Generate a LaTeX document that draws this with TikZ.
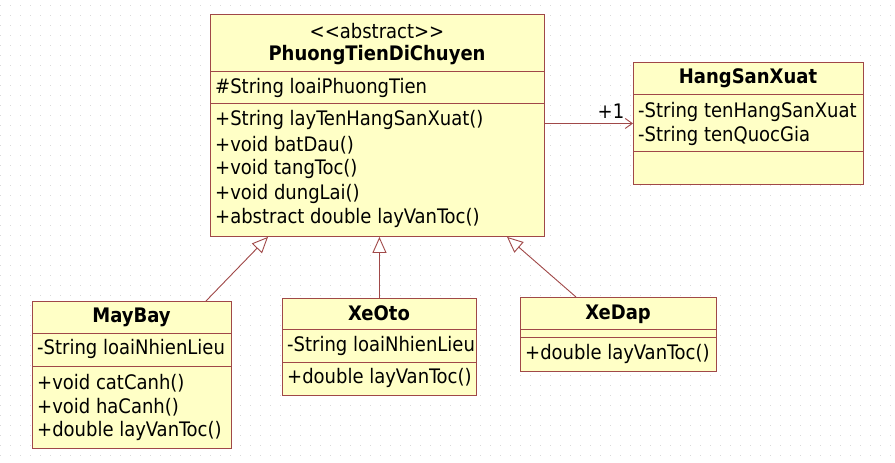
\documentclass[tikz,border=0pt]{standalone}
\usepackage{fontspec}
\setmainfont{DejaVu Sans Condensed}
\usetikzlibrary{arrows.meta,calc}
\definecolor{umlfill}{RGB}{255,255,198}
\definecolor{umlline}{RGB}{160,72,72}
\definecolor{griddot}{RGB}{218,218,218}
\begin{document}
\begin{tikzpicture}[x=1pt,y=-1pt,
  classbox/.style={draw=umlline, fill=umlfill, line width=0.9pt, anchor=north west, inner sep=0pt},
  divider/.style={draw=umlline, line width=0.9pt},
  txt/.style={anchor=west, inner sep=0pt, font=\fontsize{20}{24}\selectfont},
  ttl/.style={anchor=center, inner sep=0pt, font=\fontsize{20}{24}\selectfont\bfseries},
  gen/.style={draw=umlline, line width=0.9pt, -{Triangle[open, length=16pt, width=14pt, fill=white]}},
  assoc/.style={draw=umlline, line width=0.9pt, -{Straight Barb[length=7pt, width=10pt]}}]
\useasboundingbox (0,0) rectangle (895,463);
\fill[white] (0,0) rectangle (895,463);
\foreach \yy in {5,15,...,455}
  \draw[griddot, line width=1pt, dash pattern=on 1pt off 9pt] (0,\yy) -- (895,\yy);

% main abstract class
\node[classbox, minimum width=334pt, minimum height=222pt] (main) at (210,14) {};
\draw[divider] ($(main.north west)+(0,57)$) -- ($(main.north east)+(0,57)$);
\draw[divider] ($(main.north west)+(0,89)$) -- ($(main.north east)+(0,89)$);
\node[txt, anchor=center] (mainst) at (377,31) {{<}{<}abstract{>}{>}};
\node[ttl] (maint) at (377,55) {PhuongTienDiChuyen};
\node[txt] (maina1) at (215,88) {\#String loaiPhuongTien};
\node[txt] (mainm1) at (215,120) {+String layTenHangSanXuat()};
\node[txt] (mainm2) at (215,145) {+void batDau()};
\node[txt] (mainm3) at (215,169) {+void tangToc()};
\node[txt] (mainm4) at (215,194) {+void dungLai()};
\node[txt] (mainm5) at (215,218) {+abstract double layVanToc()};

% HangSanXuat
\node[classbox, minimum width=230pt, minimum height=122pt] (hsx) at (633,62) {};
\draw[divider] ($(hsx.north west)+(0,32)$) -- ($(hsx.north east)+(0,32)$);
\draw[divider] ($(hsx.north west)+(0,89)$) -- ($(hsx.north east)+(0,89)$);
\node[ttl] (hsxt) at (748,78) {HangSanXuat};
\node[txt] (hsxa1) at (638,112) {-String tenHangSanXuat};
\node[txt] (hsxa2) at (638,136) {-String tenQuocGia};

% MayBay
\node[classbox, minimum width=199pt, minimum height=147pt] (maybay) at (32,301) {};
\draw[divider] ($(maybay.north west)+(0,32)$) -- ($(maybay.north east)+(0,32)$);
\draw[divider] ($(maybay.north west)+(0,65)$) -- ($(maybay.north east)+(0,65)$);
\node[ttl] (maybayt) at (131.5,317) {MayBay};
\node[txt] (maybaya1) at (37,349) {-String loaiNhienLieu};
\node[txt] (maybaym1) at (37,383) {+void catCanh()};
\node[txt] (maybaym2) at (37,407) {+void haCanh()};
\node[txt] (maybaym3) at (37,431) {+double layVanToc()};

% XeOto
\node[classbox, minimum width=194pt, minimum height=97pt] (xeoto) at (282,298) {};
\draw[divider] ($(xeoto.north west)+(0,31)$) -- ($(xeoto.north east)+(0,31)$);
\draw[divider] ($(xeoto.north west)+(0,64)$) -- ($(xeoto.north east)+(0,64)$);
\node[ttl] (xeotot) at (379,313) {XeOto};
\node[txt] (xeotoa1) at (287,346) {-String loaiNhienLieu};
\node[txt] (xeotom1) at (287,378) {+double layVanToc()};

% XeDap
\node[classbox, minimum width=196pt, minimum height=74pt] (xedap) at (520,297) {};
\draw[divider] ($(xedap.north west)+(0,32)$) -- ($(xedap.north east)+(0,32)$);
\draw[divider] ($(xedap.north west)+(0,40)$) -- ($(xedap.north east)+(0,40)$);
\node[ttl] (xedapt) at (618,314) {XeDap};
\node[txt] (xedapm1) at (525,354) {+double layVanToc()};

% connectors
\draw[assoc] (main.east |- hsx.west) -- (hsx.west);
\node[txt, anchor=center] (mult) at (611,111) {+1};
\draw[gen] ($(maybay.north west)+(174,0)$) -- ($(main.south west)+(58,0)$);
\draw[gen] (xeoto.north) -- (xeoto.north |- main.south);
\draw[gen] ($(xedap.north west)+(56,0)$) -- ($(main.south west)+(297,0)$);
\end{tikzpicture}
\end{document}
